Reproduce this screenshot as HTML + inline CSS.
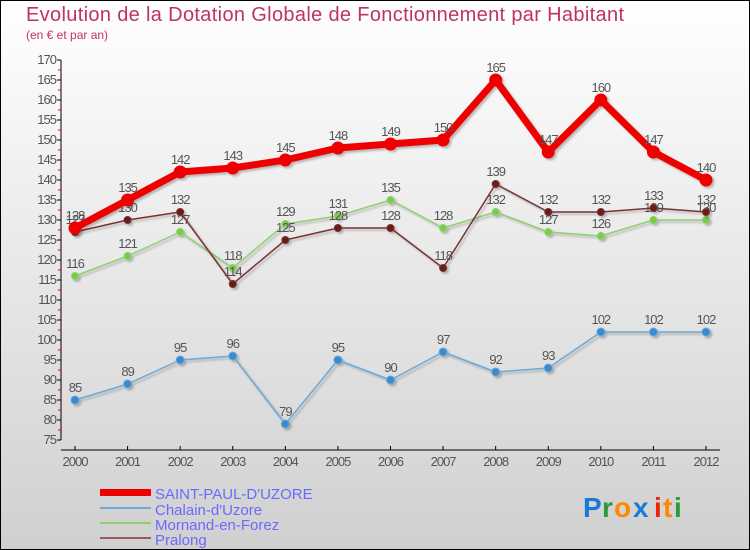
<!DOCTYPE html>
<html><head><meta charset="utf-8"><style>
body{margin:0;}
#c{width:750px;height:550px;position:relative;overflow:hidden;}
svg text{font-family:"Liberation Sans",sans-serif;}
</style></head><body>
<div id="c">
<svg id="s" width="750" height="550" xmlns="http://www.w3.org/2000/svg">
<defs><linearGradient id="bg" x1="0" y1="0" x2="0" y2="1"><stop offset="0" stop-color="#ffffff"/><stop offset="1" stop-color="#d0d0d0"/></linearGradient>
<filter id="sh"><feDropShadow dx="2" dy="2" stdDeviation="1" flood-color="#000" flood-opacity="0.25"/></filter></defs>
<rect x="0.5" y="0.5" width="749" height="549" fill="url(#bg)" stroke="#000"/>
<text x="26" y="21" font-size="20" fill="#c0306a" textLength="598">Evolution de la Dotation Globale de Fonctionnement par Habitant</text>
<text x="26" y="39" font-size="12" fill="#c0306a">(en € et par an)</text>
<g id="axes"></g><g id="series"></g>
<g>
<rect x="100" y="489" width="51" height="7" fill="#ee0000"/>
<text x="155" y="499" font-size="15" fill="#6a6aff">SAINT-PAUL-D'UZORE</text>
<rect x="100" y="507" width="51" height="2" fill="#6aaad8"/>
<text x="155" y="515" font-size="15" fill="#6a6aff">Chalain-d'Uzore</text>
<rect x="100" y="522" width="51" height="2" fill="#8ed070"/>
<text x="155" y="530" font-size="15" fill="#6a6aff">Mornand-en-Forez</text>
<rect x="100" y="537" width="51" height="2" fill="#9a5a5a"/>
<text x="155" y="545" font-size="15" fill="#6a6aff">Pralong</text>
</g>
<g font-size="28" font-weight="bold">
<text x="583" y="517" fill="#1a7ad8">P</text><text x="602" y="517" fill="#2a9a3a">r</text><text x="614" y="517" fill="#ff8800">o</text><text x="633" y="517" fill="#1a7ad8">x</text><text x="654" y="517" fill="#ee2200">i</text><text x="663" y="517" fill="#ff8800">t</text><text x="674" y="517" fill="#2a9a3a">i</text>
</g>
</svg></div>
<script>
const years=[2000,2001,2002,2003,2004,2005,2006,2007,2008,2009,2010,2011,2012];
const saintPaul=[128,135,142,143,145,148,149,150,165,147,160,147,140];
const chalain=[85,89,95,96,79,95,90,97,92,93,102,102,102];
const mornand=[116,121,127,118,129,131,135,128,132,127,126,130,130];
const pralong=[127,130,132,114,125,128,128,118,139,132,132,133,132];
const yTicks=[75,80,85,90,95,100,105,110,115,120,125,130,135,140,145,150,155,160,165,170];
const NS="http://www.w3.org/2000/svg";
const X=i=>75+i*(706-75)/(years.length-1);
const Y=v=>60+(170-v)*4;
function mk(t,a,p){const e=document.createElementNS(NS,t);for(const k in a)e.setAttribute(k,a[k]);p.appendChild(e);return e;}
const ax=document.getElementById('axes');
let l=mk('line',{x1:61,y1:Y(170),x2:61,y2:Y(75),stroke:'#000'},ax);


yTicks.forEach(v=>{
 mk('line',{x1:57,y1:Y(v),x2:61,y2:Y(v),stroke:'#000'},ax);
 if(v<170)mk('line',{x1:58,y1:Y(v+2.5),x2:61,y2:Y(v+2.5),stroke:'#e00'},ax);
 const t=mk('text',{x:56,y:Y(v)+4,'font-size':13,'text-anchor':'end',fill:'#555','letter-spacing':'-1'},ax);
 t.textContent=v;
 
 
});
l=mk('line',{x1:61,y1:450,x2:720,y2:450,stroke:'#000'},ax);


years.forEach((y,i)=>{
 mk('line',{x1:X(i),y1:446,x2:X(i),y2:450,stroke:'#000'},ax);
 const t=mk('text',{x:X(i),y:466,'font-size':13,'text-anchor':'middle',fill:'#555','letter-spacing':'-1'},ax);
 t.textContent=y;
 
 
});
const sg=document.getElementById('series');
function series(d,name,col,w,r,dot,fs){
 const g=mk('g',{filter:'url(#sh)'},sg);
 
 
 const p=mk('polyline',{points:d.map((v,i)=>X(i)+','+Y(v)).join(' '),fill:'none',stroke:col,'stroke-width':w,'stroke-linejoin':'round'},g);
 
 
 d.forEach((v,i)=>{
  const c=mk('circle',{cx:X(i),cy:Y(v),r:r,fill:dot,stroke:col,'stroke-width':1},g);
  
  
  const t=mk('text',{x:X(i),y:Y(v)-8,'font-size':fs,'text-anchor':'middle',fill:'#555','letter-spacing':'-1'},sg);
  t.textContent=v;
  
  
 });
}
series(chalain,'chalain','#6aaad8',1.5,4,'#3a8ad0',13);
series(mornand,'mornand','#8ed070',1.5,3.5,'#7acc44',13);
series(pralong,'pralong','#7a3030',1.5,3.5,'#6a1a1a',13);
series(saintPaul,'saint-paul','#ee0000',7,6,'#ee0000',13);
</script>
</body></html>
